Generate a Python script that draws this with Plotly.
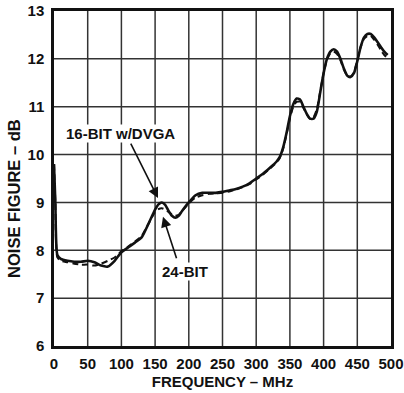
import plotly.graph_objects as go

freq = [0, 2, 5, 10, 20, 30, 40, 50, 60, 70, 80, 90, 100, 110, 120, 130, 140, 150, 155,
        160, 165, 170, 175, 180, 185, 190, 200, 210, 220, 230, 240, 250, 260, 270, 280,
        290, 300, 310, 320, 330, 335, 340, 345, 350, 355, 360, 365, 370, 375, 380, 385,
        390, 395, 400, 405, 410, 415, 420, 425, 430, 435, 440, 445, 450, 455, 460, 465,
        470, 475, 480, 485, 490, 495]

nf_16bit_dvga = [9.8, 9.0, 7.9, 7.82, 7.78, 7.76, 7.76, 7.78, 7.75, 7.68, 7.66, 7.78, 7.96,
                 8.06, 8.16, 8.27, 8.55, 8.85, 8.96, 9.0, 8.95, 8.82, 8.72, 8.68, 8.72, 8.82,
                 9.0, 9.15, 9.2, 9.2, 9.2, 9.22, 9.25, 9.28, 9.33, 9.4, 9.5, 9.6, 9.72, 9.85,
                 9.95, 10.15, 10.45, 10.8, 11.05, 11.17, 11.15, 11.0, 10.85, 10.75, 10.75,
                 10.9, 11.3, 11.7, 12.0, 12.15, 12.2, 12.15, 12.0, 11.8, 11.65, 11.62, 11.7,
                 11.95, 12.25, 12.45, 12.52, 12.52, 12.45, 12.35, 12.25, 12.15, 12.08]

nf_24bit = [9.8, 9.0, 7.85, 7.78, 7.75, 7.72, 7.7, 7.7, 7.68, 7.72, 7.78, 7.85, 7.98,
            8.08, 8.18, 8.3, 8.55, 8.8, 8.86, 8.88, 8.85, 8.8, 8.75, 8.72, 8.74, 8.82,
            8.98, 9.1, 9.15, 9.18, 9.19, 9.2, 9.23, 9.27, 9.32, 9.38, 9.48, 9.58, 9.7, 9.83,
            9.93, 10.12, 10.42, 10.75, 11.0, 11.1, 11.1, 10.98, 10.84, 10.75, 10.78,
            10.95, 11.32, 11.7, 11.98, 12.12, 12.15, 12.1, 11.97, 11.78, 11.65, 11.63, 11.72,
            11.97, 12.25, 12.42, 12.48, 12.48, 12.4, 12.3, 12.18, 12.08, 12.02]

x_ticks = [0, 50, 100, 150, 200, 250, 300, 350, 400, 450, 500]
y_ticks = [6, 7, 8, 9, 10, 11, 12, 13]

FONT = "Liberation Sans, Arial, sans-serif"
GRID = "#333333"

fig = go.Figure()
fig.add_trace(go.Scatter(x=freq, y=nf_24bit, mode="lines", name="24-BIT",
                         line=dict(color="#111", width=2, dash="6px,4px", shape="spline", smoothing=0.6)))
fig.add_trace(go.Scatter(x=freq, y=nf_16bit_dvga, mode="lines", name="16-BIT w/DVGA",
                         line=dict(color="#111", width=2.6, shape="spline", smoothing=0.6)))

# grid lines at every tick (drawn as shapes below the traces)
for v in x_ticks[1:-1]:
    fig.add_shape(type="line", xref="x", yref="paper", x0=v, x1=v, y0=0, y1=1,
                  line=dict(color=GRID, width=1.5), layer="below")
for v in y_ticks[1:-1]:
    fig.add_shape(type="line", xref="paper", yref="y", x0=0, x1=1, y0=v, y1=v,
                  line=dict(color=GRID, width=1.5), layer="below")

axis_common = dict(showgrid=False, zeroline=False,
                   showline=True, linecolor="#111", linewidth=2.5, mirror=True,
                   automargin=False,
                   ticks="outside", tickcolor="rgba(0,0,0,0)",
                   tickfont=dict(family=FONT, size=15, color="#111", weight="bold"))

fig.update_xaxes(range=[0, 500], tickvals=x_ticks, ticklen=2, **axis_common,
                 title=dict(text="FREQUENCY – MHz", standoff=6,
                            font=dict(family=FONT, size=15, color="#111", weight="bold")))
fig.update_yaxes(range=[6, 13], tickvals=y_ticks, ticklen=4, **axis_common)

fig.add_annotation(xref="paper", yref="paper", x=-0.1187, y=0.442, text="NOISE FIGURE – dB",
                   textangle=-90, showarrow=False, xanchor="center", yanchor="middle",
                   font=dict(family=FONT, size=16.5, color="#111", weight="bold"))

ann_font = dict(family=FONT, size=15, color="#111", weight="bold")
# 16-BIT w/DVGA label and arrow
fig.add_annotation(x=98, y=10.45, text="16-BIT w/DVGA", showarrow=False, bgcolor="white",
                   font=ann_font, borderpad=0)
fig.add_annotation(x=154.3, y=9.09, ax=112.8, ay=10.26, axref="x", ayref="y", text="",
                   showarrow=True, arrowhead=2, arrowsize=1.3, arrowwidth=1.6, arrowcolor="#111")
# 24-BIT label and arrow
fig.add_annotation(x=194, y=7.55, text="24-BIT", showarrow=False, bgcolor="white",
                   font=ann_font, borderpad=0)
fig.add_annotation(x=161.7, y=8.70, ax=182.5, ay=7.80, axref="x", ayref="y", text="",
                   showarrow=True, arrowhead=2, arrowsize=1.3, arrowwidth=1.6, arrowcolor="#111")

fig.update_layout(template="none", width=404, height=393, margin=dict(l=54, r=13, t=11, b=47),
                  paper_bgcolor="white", plot_bgcolor="white", showlegend=False)

# remove the browser's default 8px body margin so the figure fills the window exactly
fig.write_html("out.html", config={"displayModeBar": False},
               post_script="document.body.style.margin='0';")
